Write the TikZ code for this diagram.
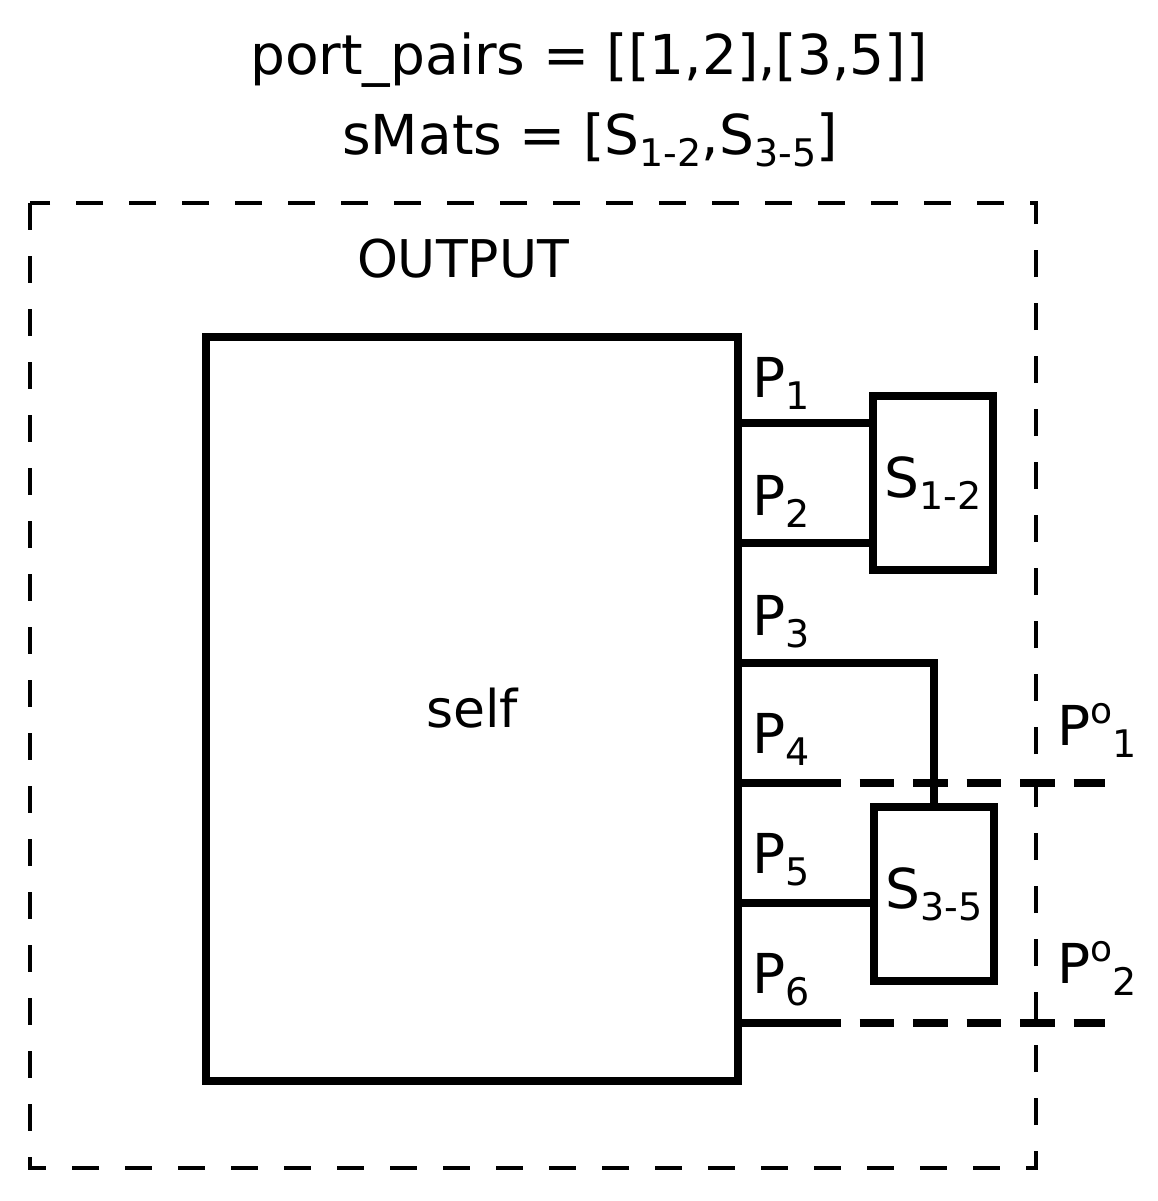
\documentclass[tikz,border=0pt]{standalone}
\usepackage{fontspec}
\setmainfont{DejaVu Sans}
% lowered index and raised mark, set in a smaller size
\newcommand\lowidx[1]{\raisebox{-12pt}{\fontsize{38}{40}\selectfont #1}}
\newcommand\upidx[1]{\raisebox{22pt}{\fontsize{36}{40}\selectfont #1}}
\begin{document}
\begin{tikzpicture}[x=1pt,y=-1pt,
  wire/.style={line width=8pt},
  blockbox/.style={draw, line width=8pt, inner sep=0pt, font=\fontsize{55}{66}\selectfont},
  frame/.style={draw, line width=4.5pt, dash pattern=on 27pt off 26pt},
  portdash/.style={line width=8pt, dash pattern=on 34.5pt off 19pt},
  lbl/.style={inner sep=0pt, font=\fontsize{55}{66}\selectfont},
  biglbl/.style={inner sep=0pt, font=\fontsize{52}{62}\selectfont}]
\useasboundingbox (0,0) rectangle (1158,1201);

% title lines
\node[lbl, anchor=base] (title1) at (589,75) {port\_pairs = [[1,2],[3,5]]};
\node[lbl, anchor=base] (title2) at (590,155) {sMats = [S\lowidx{1-2},S\lowidx{3-5}]};

% outer dashed frame
\draw[frame] (30,203) rectangle (1036,1168);
\node[biglbl, anchor=base] (outlbl) at (463,277) {OUTPUT};

% main block and the two S-matrix blocks
\node[draw, line width=8pt, inner sep=0pt, minimum width=532pt, minimum height=744pt] (self) at (472,709) {};
\node[biglbl, anchor=base] (selflbl) at (472,727) {self};
\node[blockbox, minimum width=120pt, minimum height=174pt] (s12) at (933,483) {S\lowidx{1-2}};
\node[blockbox, minimum width=120pt, minimum height=174pt] (s35) at (934,894) {S\lowidx{3-5}};

% ports on the right side of the main block
\coordinate (p1) at (738,423);
\coordinate (p2) at (738,543);
\coordinate (p3) at (738,663);
\coordinate (p4) at (738,783);
\coordinate (p5) at (738,903);
\coordinate (p6) at (738,1023);
\coordinate (q4) at (806,783);
\coordinate (q6) at (806,1023);
\coordinate (o1) at (1105,783);
\coordinate (o2) at (1105,1023);

% port labels
\node[lbl, anchor=base west] (lp1) at (752,397) {P\lowidx{1}};
\node[lbl, anchor=base west] (lp2) at (752,515) {P\lowidx{2}};
\node[lbl, anchor=base west] (lp3) at (752,635) {P\lowidx{3}};
\node[lbl, anchor=base west] (lp4) at (752,753) {P\lowidx{4}};
\node[lbl, anchor=base west] (lp5) at (752,873) {P\lowidx{5}};
\node[lbl, anchor=base west] (lp6) at (752,993) {P\lowidx{6}};
\node[lbl, anchor=base west] (lo1) at (1057,745) {P\upidx{o}\lowidx{1}};
\node[lbl, anchor=base west] (lo2) at (1057,983) {P\upidx{o}\lowidx{2}};

% connections
\draw[wire] (p1) -- (s12.west |- p1);
\draw[wire] (p2) -- (s12.west |- p2);
\draw[wire] (p3) -| (s35.north);
\draw[wire] (p5) -- (s35.west |- p5);
\draw[wire] (p4) -- (q4);
\draw[portdash] (q4) -- (o1);
\draw[wire] (p6) -- (q6);
\draw[portdash] (q6) -- (o2);
\end{tikzpicture}
\end{document}
